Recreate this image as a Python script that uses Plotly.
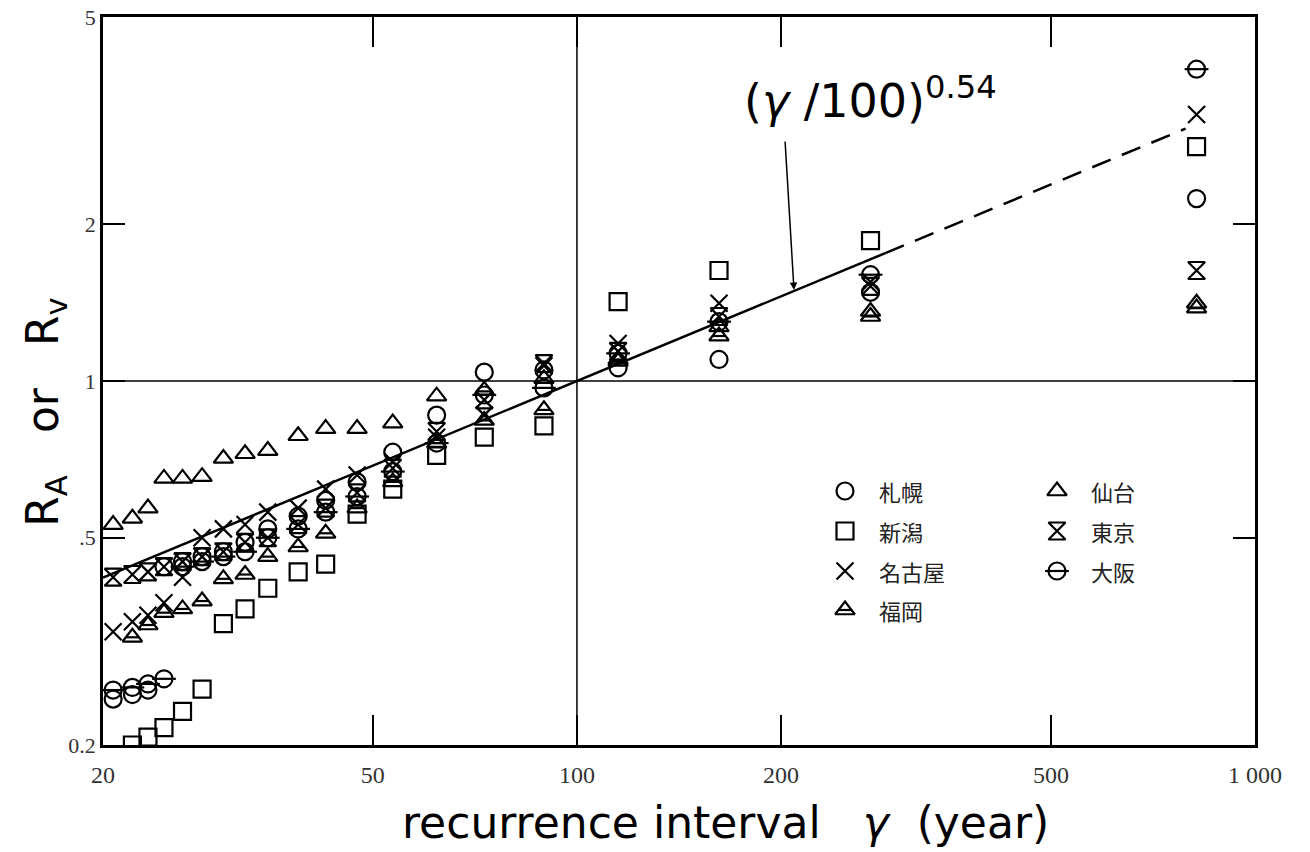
import plotly.graph_objects as go

# ---- data ----
recurrence = [20.7, 22.1, 23.3, 24.6, 26.2, 28.0, 30.1, 32.4, 35.0, 38.8,
              42.6, 47.4, 53.5, 62.1, 73.0, 89.4, 115, 162, 271, 820]

sapporo = [0.245, 0.250, 0.255, 0.44, 0.45, 0.46, 0.47, 0.49, 0.52, 0.55,
           0.59, 0.64, 0.73, 0.86, 1.04, 1.05, 1.06, 1.10, 1.48, 2.24]
niigata = [None, 0.200, 0.207, 0.216, 0.232, 0.256, 0.342, 0.365, 0.40, 0.43,
           0.445, 0.555, 0.62, 0.72, 0.78, 0.82, 1.42, 1.63, 1.86, 2.82]
nagoya = [0.33, 0.345, 0.355, 0.375, 0.42, 0.50, 0.52, 0.53, 0.56, 0.57,
          0.62, 0.66, 0.70, 0.78, 0.86, 1.07, 1.18, 1.41, 1.55, 3.25]
fukuoka = [None, 0.322, 0.34, 0.359, 0.365, 0.378, 0.417, 0.425, 0.46, 0.48,
           0.51, 0.57, 0.64, 0.76, 0.84, 0.88, 1.09, 1.22, 1.33, 1.38]
sendai = [0.53, 0.545, 0.57, 0.65, 0.65, 0.655, 0.71, 0.725, 0.735, 0.785,
          0.81, 0.81, 0.83, 0.935, 0.96, 1.01, 1.10, 1.27, 1.36, 1.41]
tokyo = [0.42, 0.425, 0.43, 0.44, 0.45, 0.46, 0.47, 0.49, 0.50, 0.53,
         0.57, 0.61, 0.68, 0.80, 0.92, 1.08, 1.14, 1.33, 1.52, 1.63]
osaka = [0.255, 0.258, 0.262, 0.268, 0.44, 0.45, 0.46, 0.47, 0.50, 0.52,
         0.56, 0.60, 0.67, 0.76, 0.94, 0.97, 1.13, 1.30, 1.60, 3.97]

city_names = ["札幌", "新潟", "名古屋", "福岡", "仙台", "東京", "大阪"]

exponent = 0.54
fit_solid_x = [20, 285]
fit_dashed_x = [285, 790]

x_tickvals = [20, 50, 100, 200, 500, 1000]
x_ticktext = ["20", "50", "100", "200", "500", "1 000"]
y_tickvals = [0.2, 0.5, 1, 2, 5]
y_ticktext = ["0.2", ".5", "1", "2", "5"]

x_title = "recurrence interval   <i>γ</i>  (year)"
y_title = "R<sub>A</sub>   or   R<sub>v</sub>"
formula = "(<i>γ</i> /100)<sup>0.54</sup>"

# ---- styles ----
MS = 17
LW = 2.2
BLACK = "black"


def mk(symbol, size=MS):
    return dict(symbol=symbol, size=size, color=BLACK,
                line=dict(width=LW, color=BLACK))


def clean(xs, ys):
    pts = [(x, y) for x, y in zip(xs, ys) if y is not None]
    return [p[0] for p in pts], [p[1] for p in pts]


fig = go.Figure()

# reference lines at 100 and 1
fig.add_trace(go.Scatter(x=[100, 100], y=[0.2, 5], mode="lines",
                         line=dict(color=BLACK, width=1.5), showlegend=False,
                         hoverinfo="skip"))
fig.add_trace(go.Scatter(x=[20, 1000], y=[1, 1], mode="lines",
                         line=dict(color=BLACK, width=1.5), showlegend=False,
                         hoverinfo="skip"))

# fitted curve (r/100)^0.54
fig.add_trace(go.Scatter(x=fit_solid_x, y=[(v / 100) ** exponent for v in fit_solid_x],
                         mode="lines", line=dict(color=BLACK, width=2.5),
                         showlegend=False))
fig.add_trace(go.Scatter(x=fit_dashed_x, y=[(v / 100) ** exponent for v in fit_dashed_x],
                         mode="lines", line=dict(color=BLACK, width=2.5, dash="20px,12px"),
                         showlegend=False))

series = [
    ("札幌", sapporo, ["circle-open"]),
    ("新潟", niigata, ["square-open"]),
    ("名古屋", nagoya, ["x-thin-open"]),
    ("福岡", fukuoka, ["triangle-up-open", "line-ew"]),
    ("仙台", sendai, ["triangle-up-open"]),
    ("東京", tokyo, ["hourglass-open"]),
    ("大阪", osaka, ["circle-open", "line-ew"]),
]

sizes = {"line-ew": 10}
for name, ys, syms in series:
    xs, yv = clean(recurrence, ys)
    for s in syms:
        size = sizes.get(s, MS)
        if name == "大阪" and s == "line-ew":
            size = MS
        fig.add_trace(go.Scatter(x=xs, y=yv, mode="markers", name=name,
                                 marker=mk(s, size), showlegend=False))

# ---- legend drawn on a pixel overlay axis ----
legend_pos = {
    "札幌": (845, 491), "新潟": (845, 531), "名古屋": (845, 571), "福岡": (845, 610),
    "仙台": (1057, 491), "東京": (1057, 531), "大阪": (1057, 571),
}
for name, ys, syms in series:
    px, py = legend_pos[name]
    for s in syms:
        size = sizes.get(s, MS)
        if name == "大阪" and s == "line-ew":
            size = MS
        fig.add_trace(go.Scatter(x=[px], y=[py], mode="markers", xaxis="x2", yaxis="y2",
                                 marker=mk(s, size), showlegend=False, hoverinfo="skip"))
    fig.add_annotation(x=px + 32, y=py, xref="x2", yref="y2", text=name,
                       showarrow=False, xanchor="left", yanchor="middle",
                       font=dict(family="Noto Sans CJK JP", size=22, color="#222"))

# formula label and arrow
fig.add_annotation(x=742, y=98, xref="x2", yref="y2",
                   text=formula, showarrow=False,
                   xanchor="left", yanchor="middle",
                   font=dict(family="DejaVu Sans", size=46, color=BLACK))
fig.add_annotation(x=794, y=290, xref="x2", yref="y2", text="",
                   showarrow=True, arrowhead=2, arrowsize=1, arrowwidth=1.5,
                   arrowcolor=BLACK, axref="pixel", ayref="pixel", ax=-9, ay=-150)

# axis titles placed as paper annotations
fig.add_annotation(x=0.540, y=-0.106, xref="paper", yref="paper", text=x_title,
                   showarrow=False, xanchor="center", yanchor="middle",
                   font=dict(family="DejaVu Sans", size=44, color=BLACK))
fig.add_annotation(x=-0.050, y=0.457, xref="paper", yref="paper", text=y_title,
                   showarrow=False, xanchor="center", yanchor="middle", textangle=-90,
                   font=dict(family="DejaVu Sans", size=44, color=BLACK))

x_tick_font = dict(family="Liberation Serif", size=24, color="#333")
y_tick_font = dict(family="Liberation Serif", size=22, color="#333")

fig.update_layout(
    width=1310, height=852,
    margin=dict(l=103, r=55, t=17, b=107),
    paper_bgcolor="white", plot_bgcolor="white",
    showlegend=False,
    xaxis=dict(type="log", range=[1.30103, 3.0], tickvals=x_tickvals, ticktext=x_ticktext,
               ticks="inside", ticklen=30, tickwidth=1.5, tickcolor=BLACK,
               showline=True, linewidth=2.5, linecolor=BLACK, mirror="ticks",
               showgrid=False, zeroline=False, tickfont=x_tick_font, automargin=False,
               ticklabelstandoff=6),
    yaxis=dict(type="log", range=[-0.69897, 0.69897], tickvals=y_tickvals, ticktext=y_ticktext,
               ticks="inside", ticklen=22, tickwidth=1.5, tickcolor=BLACK,
               showline=True, linewidth=2.5, linecolor=BLACK, mirror="ticks",
               showgrid=False, zeroline=False, tickfont=y_tick_font, automargin=False),
    xaxis2=dict(range=[103, 1255], domain=[0, 1], anchor="y2", overlaying="x",
                visible=False),
    yaxis2=dict(range=[745, 17], domain=[0, 1], anchor="x2", overlaying="y",
                visible=False),
)

fig.write_html("out.html", config={"displayModeBar": False},
               post_script="document.body.style.margin='0';document.body.style.overflow='hidden';")
